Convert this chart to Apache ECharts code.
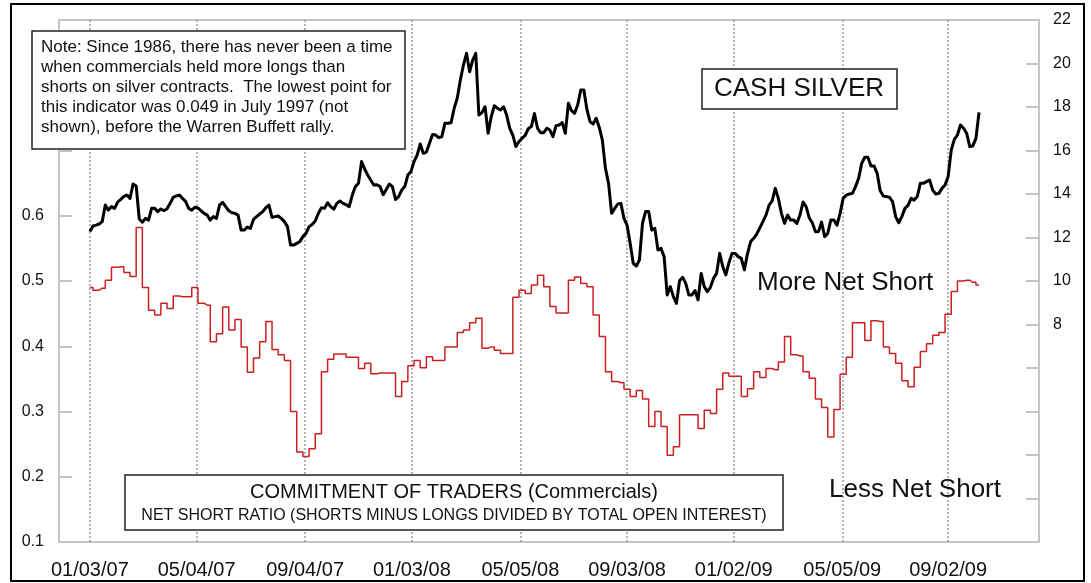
<!DOCTYPE html>
<html>
<head>
<meta charset="utf-8">
<script src="https://cdn.jsdelivr.net/npm/echarts@6/dist/echarts.min.js"></script>
<style>
    html, body { margin: 0; padding: 0; background: #fff; }
    #silver-chart { width: 1091px; height: 583px; }
</style>
</head>
<body>
<div id="silver-chart"></div>
<script>
// first sample is 2007-01-03; COT ratio is weekly, silver is sampled twice a week
var firstDay = [2007, 0, 3];
var silverStepHours = 84;
var ratioStepHours = 168;

// cash silver price, $ (right axis)
var silverPrice = [
    12.27, 12.53, 12.57, 12.62, 12.73, 13.49, 13.26, 13.42, 13.34, 13.63,
    13.75, 13.89, 13.95, 13.80, 14.46, 14.37, 12.85, 12.70, 12.88, 12.80,
    13.34, 13.34, 13.19, 13.31, 13.23, 13.32, 13.57, 13.85, 13.91, 13.95,
    13.80, 13.66, 13.34, 13.26, 13.39, 13.36, 13.23, 13.11, 13.03, 12.80,
    12.96, 12.88, 13.49, 13.62, 13.42, 13.23, 13.14, 13.11, 13.03, 12.34,
    12.34, 12.48, 12.42, 12.83, 12.96, 13.08, 13.19, 13.37, 13.49, 12.93,
    12.96, 12.99, 12.88, 12.73, 12.50, 11.65, 11.65, 11.73, 11.81, 12.04,
    12.19, 12.50, 12.60, 12.76, 13.11, 13.37, 13.34, 13.60, 13.42, 13.30,
    13.57, 13.68, 13.57, 13.51, 13.42, 13.95, 14.34, 14.49, 15.49, 15.15,
    14.87, 14.63, 14.41, 14.43, 14.34, 13.97, 14.21, 14.46, 14.34, 13.75,
    13.88, 14.18, 14.34, 14.87, 15.03, 15.49, 15.79, 16.30, 15.87, 15.93,
    16.33, 16.74, 16.71, 16.59, 16.64, 17.25, 17.25, 17.28, 17.94, 18.40,
    19.24, 19.93, 20.47, 19.62, 20.16, 20.47, 17.63, 17.74, 18.01, 16.79,
    17.55, 18.06, 17.94, 17.86, 18.01, 17.63, 17.02, 16.71, 16.18, 16.41,
    16.56, 16.70, 17.00, 17.10, 17.70, 17.02, 16.82, 16.82, 17.02, 16.94,
    16.64, 17.14, 17.17, 17.28, 16.79, 18.17, 17.83, 17.71, 18.09, 18.78,
    18.78, 17.89, 17.33, 17.22, 17.48, 17.06, 16.48, 15.18, 14.49, 13.11,
    13.34, 13.54, 13.57, 12.88, 12.57, 11.73, 10.81, 10.69, 10.96, 12.65,
    13.19, 13.19, 12.34, 12.42, 11.43, 11.50, 11.12, 9.36, 9.74, 9.28,
    8.97, 10.01, 10.17, 9.89, 9.36, 9.36, 9.56, 9.13, 10.35, 9.74,
    9.51, 9.71, 10.12, 10.35, 11.27, 10.66, 10.28, 10.84, 11.27, 11.27,
    11.12, 11.04, 10.51, 11.25, 11.80, 11.96, 12.16, 12.44, 12.73, 13.03,
    13.49, 13.68, 14.26, 13.80, 13.11, 12.65, 13.03, 12.80, 12.80, 12.65,
    13.03, 13.63, 13.42, 12.90, 12.68, 12.27, 12.27, 12.71, 12.04, 12.19,
    12.80, 12.80, 12.57, 13.11, 13.80, 13.95, 14.00, 14.03, 14.34, 14.72,
    15.41, 15.69, 15.69, 15.29, 15.29, 14.95, 14.15, 13.91, 13.88, 13.85,
    13.65, 12.96, 12.68, 12.96, 13.34, 13.48, 13.80, 13.72, 13.88, 14.49,
    14.49, 14.57, 14.64, 14.18, 14.00, 14.03, 14.26, 14.41, 14.80, 16.02,
    16.51, 16.71, 17.17, 17.02, 16.79, 16.18, 16.21, 16.56, 17.75
];

// commercials net short ratio (left axis)
var netShortRatio = [
    0.490, 0.486, 0.489, 0.501, 0.521, 0.522, 0.513, 0.507, 0.582, 0.490,
    0.455, 0.448, 0.466, 0.458, 0.477, 0.476, 0.476, 0.490, 0.466, 0.463,
    0.407, 0.419, 0.460, 0.425, 0.441, 0.399, 0.360, 0.382, 0.407, 0.438,
    0.395, 0.387, 0.378, 0.300, 0.238, 0.231, 0.243, 0.266, 0.361, 0.380,
    0.388, 0.388, 0.383, 0.383, 0.366, 0.374, 0.358, 0.359, 0.359, 0.359,
    0.323, 0.346, 0.370, 0.378, 0.367, 0.384, 0.378, 0.378, 0.399, 0.399,
    0.421, 0.425, 0.436, 0.443, 0.397, 0.399, 0.394, 0.389, 0.389, 0.475,
    0.486, 0.481, 0.494, 0.509, 0.491, 0.461, 0.451, 0.451, 0.501, 0.506,
    0.496, 0.491, 0.448, 0.415, 0.361, 0.346, 0.344, 0.334, 0.323, 0.332,
    0.319, 0.277, 0.300, 0.277, 0.233, 0.246, 0.295, 0.295, 0.295, 0.274,
    0.302, 0.297, 0.334, 0.359, 0.354, 0.354, 0.323, 0.335, 0.361, 0.352,
    0.366, 0.364, 0.376, 0.415, 0.387, 0.385, 0.361, 0.351, 0.319, 0.306,
    0.261, 0.303, 0.357, 0.383, 0.436, 0.436, 0.409, 0.439, 0.438, 0.399,
    0.389, 0.374, 0.347, 0.338, 0.368, 0.392, 0.404, 0.417, 0.421, 0.449,
    0.484, 0.500, 0.501, 0.498, 0.494
];

// x axis labels / dotted grid lines
var labelDates = ['2007-01-03', '2007-05-04', '2007-09-04', '2008-01-03', '2008-05-05',
    '2008-09-03', '2009-01-02', '2009-05-05', '2009-09-02'];
var axisStart = '2006-11-29';
var axisEnd = '2009-12-14';

var noteText = [
    'Note: Since 1986, there has never been a time',
    'when commercials held more longs than',
    'shorts on silver contracts.  The lowest point for',
    'this indicator was 0.049 in July 1997 (not',
    'shown), before the Warren Buffett rally.'
];

var FONT = '"Liberation Sans", Arial, sans-serif';

function toTime(s) {
    var p = s.split('-');
    return new Date(+p[0], +p[1] - 1, +p[2]).getTime();
}

function stepTime(i, hours) {
    return new Date(firstDay[0], firstDay[1], firstDay[2], i * hours).getTime();
}

function pad(n) {
    return (n < 10 ? '0' : '') + n;
}

(function() {
    var chart = echarts.init(document.getElementById('silver-chart'));

    var silverData = [];
    for (var i = 0; i < silverPrice.length; i++) {
        silverData.push([stepTime(i, silverStepHours), silverPrice[i]]);
    }
    var ratioData = [];
    for (var j = 0; j < netShortRatio.length; j++) {
        ratioData.push([stepTime(j, ratioStepHours), netShortRatio[j]]);
    }
    var ticks = labelDates.map(toTime);

    var option = {
        animation: false,
        backgroundColor: '#fff',
        grid: {
            left: 59,
            right: 52,
            top: 20,
            bottom: 41,
            show: true,
            borderColor: '#c4c4c4',
            borderWidth: 2
        },
        xAxis: {
            type: 'value',
            min: toTime(axisStart),
            max: toTime(axisEnd),
            axisLine: { show: false },
            axisTick: { show: false, customValues: ticks },
            splitLine: {
                show: true,
                lineStyle: { color: '#9a9a9a', width: 1.5, type: [2, 2] }
            },
            axisLabel: {
                customValues: ticks,
                margin: 18,
                color: '#111',
                fontSize: 20,
                fontFamily: FONT,
                formatter: function(v) {
                    var d = new Date(v);
                    return pad(d.getMonth() + 1) + '/' + pad(d.getDate()) + '/' + pad(d.getFullYear() % 100);
                }
            }
        },
        yAxis: [
            {
                type: 'value',
                min: 0.1,
                max: 0.9,
                interval: 0.1,
                axisLine: { show: true, lineStyle: { color: '#c4c4c4', width: 2 } },
                axisTick: { show: true, inside: true, length: 13, lineStyle: { color: '#c4c4c4', width: 2 } },
                splitLine: { show: false },
                axisLabel: {
                    margin: 15,
                    color: '#111',
                    fontSize: 16,
                    fontFamily: FONT,
                    formatter: function(v) {
                        return v < 0.65 ? v.toFixed(1) : '';
                    }
                }
            },
            {
                type: 'value',
                position: 'right',
                min: -2,
                max: 22,
                interval: 2,
                axisLine: { show: true, lineStyle: { color: '#c4c4c4', width: 2 } },
                axisTick: { show: true, inside: true, length: 13, lineStyle: { color: '#c4c4c4', width: 2 } },
                splitLine: { show: false },
                axisLabel: {
                    margin: 14,
                    color: '#111',
                    fontSize: 16,
                    fontFamily: FONT,
                    formatter: function(v) {
                        return v >= 8 ? String(v) : '';
                    }
                }
            }
        ],
        series: [
            {
                name: 'Net short ratio',
                type: 'line',
                yAxisIndex: 0,
                step: 'middle',
                showSymbol: false,
                lineStyle: { color: '#cc1f1f', width: 1.5 },
                data: ratioData,
                z: 3
            },
            {
                name: 'Cash silver',
                type: 'line',
                yAxisIndex: 1,
                showSymbol: false,
                lineStyle: { color: '#000', width: 3, join: 'round' },
                data: silverData,
                z: 4
            }
        ],
        graphic: [
            {
                type: 'rect',
                shape: { x: 11, y: 4, width: 1073, height: 577 },
                style: { fill: 'none', stroke: '#000', lineWidth: 2 },
                z: 100
            },
            // note box
            {
                type: 'rect',
                shape: { x: 32, y: 31, width: 373, height: 118 },
                style: { fill: '#fff', stroke: '#222', lineWidth: 1.5 },
                z: 100
            },
            {
                type: 'text',
                x: 41,
                y: 37,
                style: {
                    text: noteText.join('\n'),
                    fontSize: 17,
                    fontFamily: FONT,
                    lineHeight: 20,
                    fill: '#111',
                    verticalAlign: 'top'
                },
                z: 101
            },
            // title box
            {
                type: 'rect',
                shape: { x: 702, y: 69, width: 195, height: 40 },
                style: { fill: '#fff', stroke: '#222', lineWidth: 1.5 },
                z: 100
            },
            {
                type: 'text',
                x: 799,
                y: 89,
                style: {
                    text: 'CASH SILVER',
                    fontSize: 26,
                    fontFamily: FONT,
                    fill: '#111',
                    align: 'center',
                    verticalAlign: 'middle'
                },
                z: 101
            },
            {
                type: 'text',
                x: 757,
                y: 283,
                style: {
                    text: 'More Net Short',
                    fontSize: 26,
                    fontFamily: FONT,
                    fill: '#111',
                    verticalAlign: 'middle'
                },
                z: 101
            },
            {
                type: 'text',
                x: 829,
                y: 490,
                style: {
                    text: 'Less Net Short',
                    fontSize: 26,
                    fontFamily: FONT,
                    fill: '#111',
                    verticalAlign: 'middle'
                },
                z: 101
            },
            // legend box
            {
                type: 'rect',
                shape: { x: 125, y: 475, width: 658, height: 55 },
                style: { fill: '#fff', stroke: '#222', lineWidth: 1.5 },
                z: 100
            },
            {
                type: 'text',
                x: 454,
                y: 492,
                style: {
                    text: 'COMMITMENT OF TRADERS (Commercials)',
                    fontSize: 20,
                    fontFamily: FONT,
                    fill: '#111',
                    align: 'center',
                    verticalAlign: 'middle'
                },
                z: 101
            },
            {
                type: 'text',
                x: 454,
                y: 516,
                style: {
                    text: 'NET SHORT RATIO (SHORTS MINUS LONGS DIVIDED BY TOTAL OPEN INTEREST)',
                    fontSize: 16,
                    fontFamily: FONT,
                    fill: '#111',
                    align: 'center',
                    verticalAlign: 'middle'
                },
                z: 101
            }
        ]
    };

    chart.setOption(option);
})();
</script>
</body>
</html>
